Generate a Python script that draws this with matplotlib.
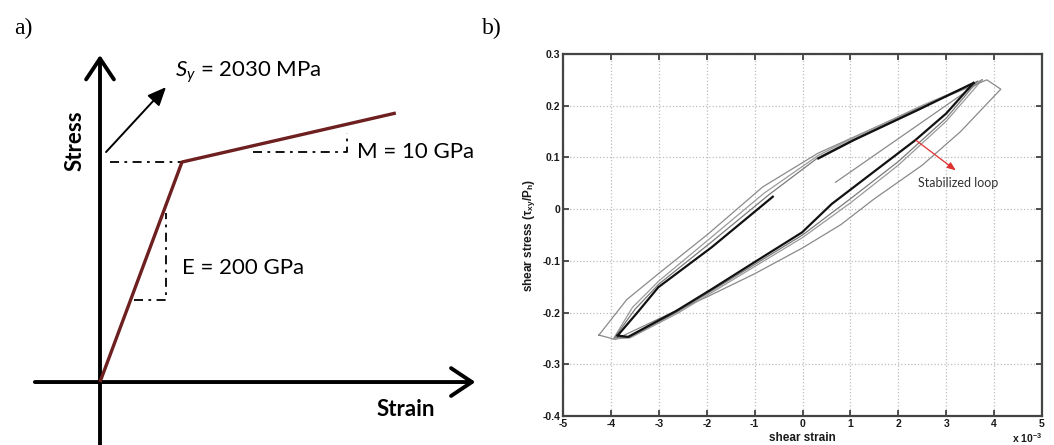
import numpy as np
import matplotlib.pyplot as plt
from matplotlib.patches import FancyArrowPatch

plt.rcParams['mathtext.fontset'] = 'custom'
plt.rcParams['mathtext.rm'] = 'Liberation Sans'
plt.rcParams['mathtext.bf'] = 'Liberation Sans:bold'
plt.rcParams['mathtext.it'] = 'Lato:italic'
plt.rcParams['axes.unicode_minus'] = False

# ----- a) bilinear material model -----
strain_pts = [0.0, 0.0102, 0.0368]       # origin, yield, end of hardening
stress_pts = [0.0, 2030.0, 2482.0]       # MPa

# slope triangles (strain, stress)
e_tri_x = [0.0042, 0.0082, 0.0082]
e_tri_y = [756.0, 756.0, 1559.0]
m_tri_x = [0.0190, 0.0307, 0.0307]
m_tri_y = [2122.0, 2122.0, 2297.0]

# ----- b) shear stress / shear strain loops (strain in 1e-3) -----
outer_x = [-4.25, -3.67, -3.01, -1.97, -0.83, 0.32, 1.06, 2.46, 3.85, 4.14,
           3.3, 2.5, 1.5, 0.8, 0.0, -1.0, -2.0, -3.0, -3.91, -4.25]
outer_y = [-0.2435, -0.175, -0.125, -0.048, 0.043, 0.108, 0.139, 0.197, 0.25, 0.232,
           0.15, 0.085, 0.02, -0.03, -0.075, -0.125, -0.17, -0.212, -0.252, -0.2435]

mid1_x = [3.75, 2.46, 1.06, 0.33, -0.8, -1.95, -3.0, -3.55, -3.95,
          -3.6, -2.6, -1.0, 0.0, 1.0, 2.0, 3.0, 3.75]
mid1_y = [0.25, 0.199, 0.138, 0.104, 0.031, -0.058, -0.139, -0.19, -0.251,
          -0.249, -0.201, -0.111, -0.055, 0.012, 0.085, 0.17, 0.25]

mid2_x = [3.65, 2.46, 1.06, 0.33, -0.7, -1.92, -3.0, -3.5, -3.92,
          -3.62, -2.62, -1.0, 0.0, 1.0, 2.0, 3.0, 3.65]
mid2_y = [0.247, 0.196, 0.135, 0.1, 0.028, -0.065, -0.145, -0.194, -0.248,
          -0.248, -0.199, -0.107, -0.05, 0.02, 0.092, 0.176, 0.247]

load_x = [0.69, 3.72]
load_y = [0.052, 0.247]

stab_up1_x = [3.57, 2.46, 1.06, 0.33]
stab_up1_y = [0.244, 0.194, 0.133, 0.098]
stab_up2_x = [-0.62, -1.9, -3.01, -3.43, -3.86]
stab_up2_y = [0.024, -0.074, -0.151, -0.198, -0.2445]
stab_lo_x = [-3.86, -3.64, -2.64, -1.9, -1.01, -0.01, 0.61, 1.5, 2.35, 3.0, 3.57]
stab_lo_y = [-0.2445, -0.247, -0.197, -0.155, -0.103, -0.045, 0.01, 0.073, 0.133, 0.185, 0.244]

x_ticks = [-5, -4, -3, -2, -1, 0, 1, 2, 3, 4, 5]
y_ticks = [-0.4, -0.3, -0.2, -0.1, 0, 0.1, 0.2, 0.3]
y_ticklabels = ['-0.4', '-0.3', '-0.2', '-0.1', '0', '0.1', '0.2', '0.3']

fig = plt.figure(figsize=(10.54, 4.45), dpi=100)

# ---------------- panel a ----------------
ax_a = fig.add_axes([0, 0, 527 / 1054, 1])
ax_a.set_xlim(-0.01244, 0.05312)
ax_a.set_ylim(-581, 3525)
ax_a.axis('off')

arrow_kw = dict(arrowstyle='->,head_length=0.75,head_width=0.5', mutation_scale=20,
                lw=2.8, color='black', shrinkA=0, shrinkB=0)
ax_a.add_patch(FancyArrowPatch((0, -581), (0, 3017), **arrow_kw))
ax_a.add_patch(FancyArrowPatch((-0.0081, 0), (0.0467, 0), **arrow_kw))

dd = (0, (5, 3, 1.5, 3))
ax_a.plot([0.00124, strain_pts[1]], [stress_pts[1], stress_pts[1]],
          color='black', lw=1.3, ls=dd)
ax_a.plot(e_tri_x, e_tri_y, color='black', lw=1.3, ls=dd)
ax_a.plot(m_tri_x, m_tri_y, color='black', lw=1.3, ls=dd)

ax_a.plot(strain_pts, stress_pts, color='#6e1f1f', lw=2.4, solid_capstyle='butt')

ax_a.add_patch(FancyArrowPatch((0.00075, 2122), (0.00821, 2721),
                               arrowstyle='-|>,head_length=0.8,head_width=0.35',
                               mutation_scale=14, lw=1.4, color='black',
                               shrinkA=0, shrinkB=0))

ax_a.text(0.0093, 2861, r'$S_y$ = 2030 MPa', fontsize=16, family='Lato', va='center')
ax_a.text(0.0320, 2122, 'M = 10 GPa', fontsize=16, family='Lato', va='center')
ax_a.text(0.0102, 1052, 'E = 200 GPa', fontsize=16, family='Lato', va='center')
ax_a.text(-0.0031, 2224, 'Stress', fontsize=16, family='Lato', fontweight='bold',
          rotation=90, ha='center', va='center')
ax_a.text(0.0381, -258, 'Strain', fontsize=16, family='Lato', fontweight='bold',
          ha='center', va='center')

fig.text(14 / 1054, 1 - 28 / 445, 'a)', fontsize=17, family='Liberation Serif', va='center')
fig.text(482 / 1054, 1 - 28 / 445, 'b)', fontsize=17, family='Liberation Serif', va='center')

# ---------------- panel b ----------------
ax_b = fig.add_axes([563 / 1054, 29 / 445, 479 / 1054, 362 / 445])
ax_b.set_xlim(-5, 5)
ax_b.set_ylim(-0.4, 0.3)
ax_b.set_xticks(x_ticks)
ax_b.set_yticks(y_ticks)
ax_b.set_yticklabels(y_ticklabels)
ax_b.grid(True, color='#bdbdbd', ls=':', lw=0.9)
ax_b.tick_params(direction='in', top=True, right=True, length=4, width=1.2,
                 color='#333333', labelsize=7.5, pad=2)
for lab in ax_b.get_xticklabels() + ax_b.get_yticklabels():
    lab.set_fontweight('bold')
    lab.set_family('Liberation Sans')
    lab.set_color('#1a1a1a')
for sp in ax_b.spines.values():
    sp.set_linewidth(1.6)
    sp.set_color('#444444')

ax_b.plot(outer_x, outer_y, color='#8a8a8a', lw=0.9)
ax_b.plot(mid1_x, mid1_y, color='#9a9a9a', lw=0.9)
ax_b.plot(mid2_x, mid2_y, color='#7a7a7a', lw=0.9)
ax_b.plot(load_x, load_y, color='#8a8a8a', lw=0.9)
ax_b.plot(stab_up1_x, stab_up1_y, color='#111111', lw=1.6)
ax_b.plot(stab_up2_x, stab_up2_y, color='#111111', lw=1.6)
ax_b.plot(stab_lo_x, stab_lo_y, color='#111111', lw=1.6)

ax_b.annotate('', xy=(3.2, 0.075), xytext=(2.37, 0.133),
              arrowprops=dict(arrowstyle='-|>,head_length=0.5,head_width=0.2',
                              color='#e03030', lw=0.9, shrinkA=0, shrinkB=0))
ax_b.text(2.42, 0.05, 'Stabilized loop', fontsize=9, family='Lato',
          color='#333333', va='center')

ax_b.set_xlabel('shear strain', fontsize=8.5, fontweight='bold', family='Liberation Sans',
                labelpad=2, color='#1a1a1a')
ax_b.set_ylabel(r'shear stress (τ$_{\mathbf{xy}}$/P$_{\mathbf{h}}$)', fontsize=8.5,
                fontweight='bold', family='Liberation Sans', labelpad=3, color='#1a1a1a')
ax_b.text(1.0, -0.045, r'x 10$^{\mathbf{-3}}$', transform=ax_b.transAxes, fontsize=7.5,
          fontweight='bold', family='Liberation Sans', ha='right', va='top', color='#1a1a1a')

fig.savefig('out.png', dpi=100, facecolor='white')
